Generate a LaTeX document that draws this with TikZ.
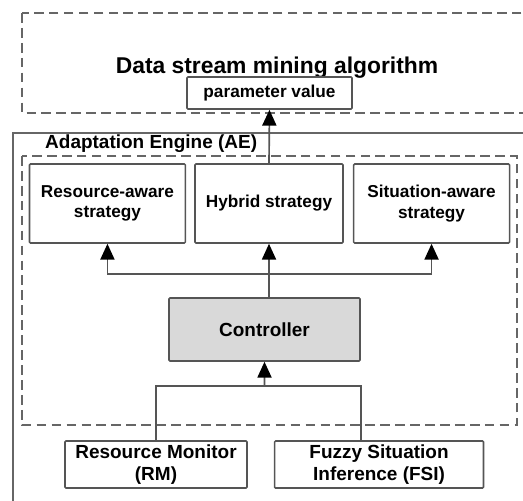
\documentclass[tikz,border=0pt]{standalone}
\usepackage{fontspec}
\setmainfont{Liberation Sans}
\usetikzlibrary{arrows.meta,positioning,calc}

\begin{document}
\begin{tikzpicture}[
    x=0.02cm, y=-0.02cm,
    font=\bfseries\fontsize{9.8}{11.5}\selectfont,
    box/.style={
        rectangle, rounded corners=0.6pt, draw=boxGray, line width=0.9pt,
        fill=white, align=center, inner sep=2pt
    },
    stratBox/.style={box, minimum width=3.12cm, minimum height=1.58cm},
    bigText/.style={font=\bfseries\fontsize{10.8}{12.5}\selectfont},
    inBox/.style={box, bigText, minimum height=0.94cm},
    ctrlBox/.style={box, bigText, fill=ctrlGray, minimum width=3.82cm, minimum height=1.26cm},
    dashFrame/.style={draw=frameGray, line width=0.95pt, dash pattern=on 5.5pt off 3pt},
    solidFrame/.style={draw=frameGray, line width=1.2pt},
    arrow/.style={-{Triangle[length=9pt, width=8pt, fill=black, color=black]}, line width=0.95pt, draw=lineGray},
    link/.style={line width=0.95pt, draw=lineGray}
]

    \definecolor{boxGray}{HTML}{555555}
    \definecolor{frameGray}{HTML}{666666}
    \definecolor{lineGray}{HTML}{555555}
    \definecolor{ctrlGray}{HTML}{D9D9D9}

    \clip (0,0) rectangle (523,500);

    \draw[dashFrame] (22,13) rectangle (560,113);
    \draw[solidFrame] (13,133) rectangle (560,540);
    \draw[dashFrame] (22,156) rectangle (517,425);

    \node[font=\bfseries\fontsize{13}{15}\selectfont] (algoTitle) at (277,68) {Data stream mining algorithm};
    \node[box, minimum width=3.3cm, minimum height=0.64cm] (param) at (269.5,93) {parameter value};

    \node[bigText, anchor=west] (aeLabel) at (39,144) {Adaptation Engine (AE)};

    \node[stratBox, minimum width=2.96cm] (hybrid) at (269,203.5) {Hybrid strategy};
    \node[stratBox, left=0.16cm of hybrid] (resAware) {Resource-aware\\ strategy};
    \node[stratBox, right=0.18cm of hybrid] (sitAware) {Situation-aware\\ strategy};

    \node[ctrlBox] (ctrl) at (264.5,329.5) {Controller};

    \node[inBox, minimum width=3.64cm] (rm) at (156,464.5) {Resource Monitor\\ (RM)};
    \node[inBox, minimum width=4.18cm, right=0.52cm of rm] (fsi) {Fuzzy Situation\\ Inference (FSI)};

    \coordinate (fork) at ($(hybrid.south)!0.56!(hybrid.south |- ctrl.north)$);
    \coordinate (merge) at ($(ctrl.south)!0.31!(ctrl.south |- rm.north)$);

    \draw[arrow] (hybrid.north) -- (param.south);
    \draw[arrow] (hybrid.south |- ctrl.north) -- (hybrid.south);
    \draw[arrow] (fork) -| (resAware.south);
    \draw[arrow] (fork) -| (sitAware.south);

    \draw[arrow] (merge) -- (ctrl.south);
    \draw[link] (merge) -| (rm.north);
    \draw[link] (merge) -| (ctrl.east |- fsi.north);

\end{tikzpicture}
\end{document}
